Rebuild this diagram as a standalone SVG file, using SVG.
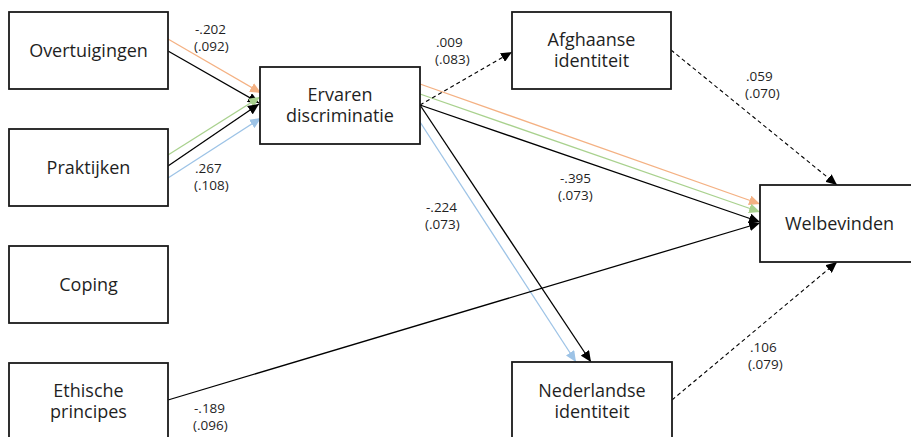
<svg xmlns="http://www.w3.org/2000/svg" width="911" height="437" viewBox="0 0 911 437">
<style>
.box{fill:#fff;stroke:#1a1a1a;stroke-width:1.8}
.nt{font-family:"Open Sans","Noto Sans","Liberation Sans",sans-serif;font-size:18px;fill:#1f1f1f;text-anchor:middle}
.lb{font-family:"Open Sans","Noto Sans","Liberation Sans",sans-serif;font-size:13.5px;fill:#1f1f1f}
.k{stroke:#000;stroke-width:1.3;fill:none}
.o{stroke:#F4B183;stroke-width:1.3;fill:none}
.g{stroke:#A9D18E;stroke-width:1.3;fill:none}
.b{stroke:#9DC3E6;stroke-width:1.3;fill:none}
.d{stroke:#000;stroke-width:1.1;fill:none;stroke-dasharray:4 3}
</style>
<defs>
<marker id="ak" markerUnits="userSpaceOnUse" markerWidth="12" markerHeight="10" refX="11" refY="5" orient="auto"><path d="M0,0 L11,5 L0,10 z" fill="#000"/></marker>
<marker id="ao" markerUnits="userSpaceOnUse" markerWidth="12" markerHeight="10" refX="11" refY="5" orient="auto"><path d="M0,0 L11,5 L0,10 z" fill="#F4B183"/></marker>
<marker id="ag" markerUnits="userSpaceOnUse" markerWidth="12" markerHeight="10" refX="11" refY="5" orient="auto"><path d="M0,0 L11,5 L0,10 z" fill="#A9D18E"/></marker>
<marker id="ab" markerUnits="userSpaceOnUse" markerWidth="12" markerHeight="10" refX="11" refY="5" orient="auto"><path d="M0,0 L11,5 L0,10 z" fill="#9DC3E6"/></marker>
</defs>
<rect width="911" height="437" fill="#fff"/>
<g id="connectors">
<line class="o" x1="168" y1="39" x2="261" y2="93" marker-end="url(#ao)"/>
<line class="k" x1="168" y1="51" x2="259" y2="103" marker-end="url(#ak)"/>
<line class="g" x1="168" y1="155" x2="260" y2="97" marker-end="url(#ag)"/>
<line class="k" x1="168" y1="166" x2="259" y2="104" marker-end="url(#ak)"/>
<line class="b" x1="168" y1="178" x2="261" y2="118" marker-end="url(#ab)"/>
<line class="o" x1="420" y1="84" x2="760" y2="204" marker-end="url(#ao)"/>
<line class="g" x1="420" y1="94" x2="760" y2="212" marker-end="url(#ag)"/>
<line class="k" x1="420" y1="105" x2="760" y2="222" marker-end="url(#ak)"/>
<line class="d" x1="420" y1="105" x2="512" y2="52" marker-end="url(#ak)"/>
<line class="k" x1="420" y1="105" x2="591" y2="362" marker-end="url(#ak)"/>
<line class="b" x1="420" y1="122" x2="576" y2="362" marker-end="url(#ab)"/>
<line class="k" x1="168" y1="400" x2="760" y2="223" marker-end="url(#ak)"/>
<line class="d" x1="671" y1="50" x2="837" y2="185" marker-end="url(#ak)"/>
<line class="d" x1="672" y1="400" x2="837" y2="262" marker-end="url(#ak)"/>
</g>
<g id="labels">
<text class="lb" x="195" y="34">-.202</text><text class="lb" x="194" y="51">(.092)</text>
<text class="lb" x="195" y="173">.267</text><text class="lb" x="194" y="190">(.108)</text>
<text class="lb" x="436" y="47">.009</text><text class="lb" x="435" y="64">(.083)</text>
<text class="lb" x="746" y="81">.059</text><text class="lb" x="745" y="98">(.070)</text>
<text class="lb" x="560" y="183">-.395</text><text class="lb" x="558" y="200">(.073)</text>
<text class="lb" x="426" y="212">-.224</text><text class="lb" x="425" y="229">(.073)</text>
<text class="lb" x="750" y="352">.106</text><text class="lb" x="748" y="369">(.079)</text>
<text class="lb" x="194" y="413">-.189</text><text class="lb" x="193" y="430">(.096)</text>
</g>
<g id="overtuigingen"><rect class="box" x="9" y="12" width="159" height="77"/><text class="nt" x="88.5" y="57">Overtuigingen</text></g>
<g id="praktijken"><rect class="box" x="9" y="129" width="159" height="77"/><text class="nt" x="88.5" y="174">Praktijken</text></g>
<g id="coping"><rect class="box" x="9" y="246" width="159" height="77"/><text class="nt" x="88.5" y="291">Coping</text></g>
<g id="ethische"><rect class="box" x="9" y="363" width="159" height="77"/><text class="nt" x="88.5" y="397">Ethische</text><text class="nt" x="88.5" y="418">principes</text></g>
<g id="ervaren"><rect class="box" x="260" y="67" width="160" height="77"/><text class="nt" x="340" y="101">Ervaren</text><text class="nt" x="340" y="122">discriminatie</text></g>
<g id="afghaanse"><rect class="box" x="512" y="12" width="159" height="77"/><text class="nt" x="591.5" y="46">Afghaanse</text><text class="nt" x="591.5" y="67">identiteit</text></g>
<g id="nederlandse"><rect class="box" x="512" y="362" width="160" height="78"/><text class="nt" x="592" y="397">Nederlandse</text><text class="nt" x="592" y="418">identiteit</text></g>
<g id="welbevinden"><rect class="box" x="760" y="185" width="159" height="77"/><text class="nt" x="839.5" y="230">Welbevinden</text></g>
</svg>
